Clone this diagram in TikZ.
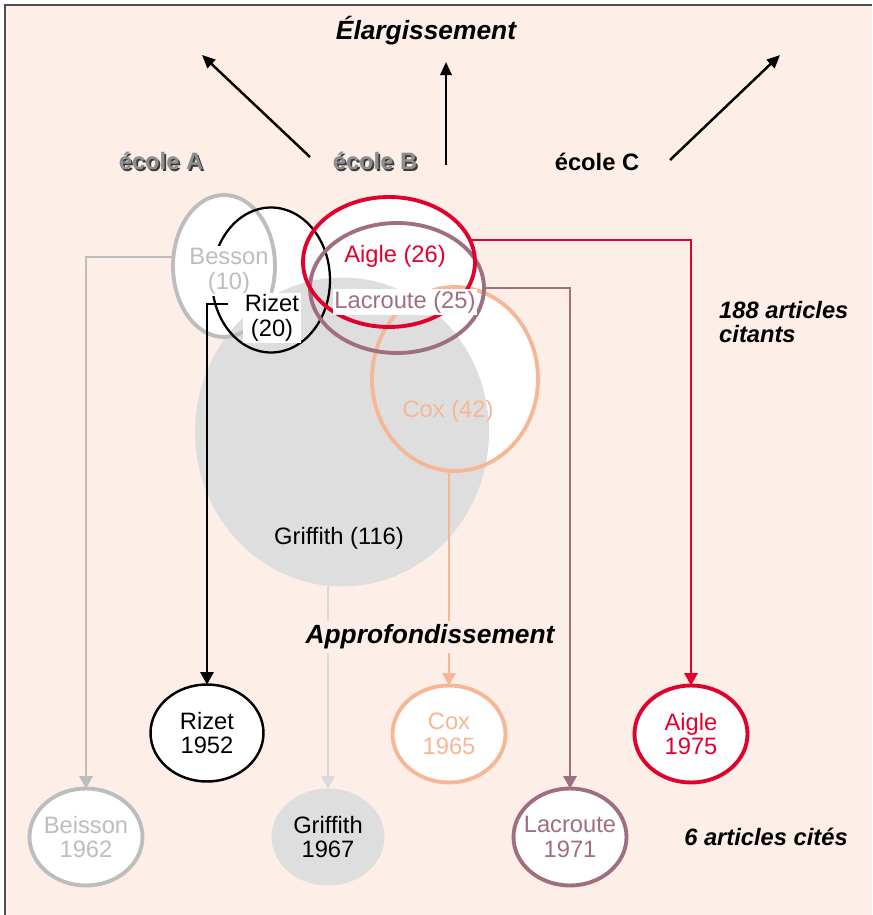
\documentclass[tikz,border=0pt]{standalone}
\usepackage{fontspec}
\setmainfont{Liberation Sans}
\usetikzlibrary{positioning,arrows.meta,calc,shapes.geometric,backgrounds}
\definecolor{fond}{HTML}{FDEEE7}
\definecolor{cadre}{HTML}{4F4F4F}
\definecolor{cAigle}{HTML}{E2002D}
\definecolor{cLacroute}{HTML}{9F6F80}
\definecolor{cCox}{HTML}{F6B797}
\definecolor{cBesson}{HTML}{BDBDBD}
\definecolor{cGriffith}{HTML}{DEDEDE}
\definecolor{cGrifLine}{HTML}{D9D9D9}
\definecolor{ecoleTxt}{HTML}{8E8E8E}
\definecolor{ecoleOmbre}{HTML}{3C3C3C}
\newcommand{\ombre}[1]{\makebox[0pt][l]{\hspace{1pt}\raisebox{-1pt}{\color{ecoleOmbre}#1}}{\color{ecoleTxt}#1}}

\begin{document}
\begin{tikzpicture}[x=0.02cm,y=-0.02cm,font=\fontsize{13.5}{14.2}\selectfont,
  ens/.style={ellipse,draw,line width=2.2pt,inner sep=0pt,outer sep=0pt},
  art/.style={ellipse,draw,fill=white,line width=2.2pt,inner xsep=-6pt,inner ysep=0pt,outer sep=0pt,
    minimum width=2.26cm,minimum height=1.94cm,align=center},
  lbl/.style={inner sep=1pt,align=center},
  titre/.style={font=\fontsize{15}{18}\selectfont\bfseries\itshape},
  note/.style={font=\fontsize{13.5}{13.6}\selectfont\bfseries\itshape,align=left},
  ecole/.style={font=\fontsize{13.5}{16}\selectfont\bfseries},
  lien/.style={-{Triangle[length=7pt,width=7.5pt]},line width=1.1pt},
  fleche/.style={-{Triangle[length=7.5pt,width=6.5pt]},line width=1.4pt}]
\useasboundingbox (0,0) rectangle (872,915);
% widening: three schools
\node[titre] (elarg) at (426,31) {Élargissement};
\node[ecole] (ecoleA) at (161,162) {\ombre{école A}};
\node[ecole] (ecoleB) at (375,162) {\ombre{école B}};
\node[ecole] (ecoleC) at (597,162) {école C};
\coordinate (dA) at (310,157); \coordinate (fA) at (202,55);
\coordinate (dB) at (446,165); \coordinate (fB) at (446,62);
\coordinate (dC) at (670,160); \coordinate (fC) at (780,55);
\draw[fleche] (dA) -- (fA);
\draw[fleche] (dB) -- (fB);
\draw[fleche] (dC) -- (fC);
% citing sets (Griffith under the outlines)
\node[ellipse,fill=cGriffith,inner sep=0pt,outer sep=0pt,minimum width=5.88cm,minimum height=6.18cm] (griffith) at (342,432) {};
\node[ens,draw=cBesson,minimum width=2.04cm,minimum height=2.84cm] (besson) at (224,266) {};
\node[ens,line width=1.3pt,minimum width=2.36cm,minimum height=2.9cm] (rizet) at (271,280) {};
\node[ens,draw=cCox,minimum width=3.32cm,minimum height=3.68cm] (cox) at (455,379) {};
\node[ens,draw=cLacroute,minimum width=3.48cm,minimum height=2.6cm] (lacroute) at (397,288) {};
\node[ens,draw=cAigle,minimum width=3.44cm,minimum height=2.6cm] (aigle) at (389,262) {};
\node[note,anchor=west] (citants) at (713,322) {188 articles\\citants};
% cited articles
\node[art,line width=1.4pt] (rizet52) at (207,733) {Rizet\\1952};
\node[art,draw=cCox,text=cCox] (cox65) at (449,734) {Cox\\1965};
\node[art,draw=cAigle,text=cAigle] (aigle75) at (691,734) {Aigle\\1975};
\node[art,draw=cBesson,text=cBesson] (beisson62) at (86,837) {Beisson\\1962};
\node[art,draw=none,fill=cGriffith] (griffith67) at (328,837) {Griffith\\1967};
\node[art,draw=cLacroute,text=cLacroute] (lacroute71) at (570,837) {Lacroute\\1971};
\node[note] (cites) at (766,837) {6 articles cités};
% links
\coordinate (rizetdep) at (228,304);
\draw[lien,cBesson] (besson.170) -| (beisson62.north);
\draw[lien] (rizetdep) -| (rizet52.north);
\draw[lien,cGrifLine] (griffith67.north |- griffith.south) -- (griffith67.north);
\draw[lien,cCox] (cox65.north |- cox.south) -- (cox65.north);
\draw[lien,cLacroute] (lacroute.east) -| (lacroute71.north);
\draw[lien,cAigle] (aigle.15) -| (aigle75.north);
\node[titre,fill=fond,inner sep=2pt] (approf) at (430,637) {Approfondissement};
% set labels
\node[lbl,fill=white,text=cBesson] (lbBesson) at (229,271) {Besson\\(10)};
\node[lbl,fill=white] (lbRizet) at (272,318) {Rizet\\(20)};
\node[lbl,text=cAigle] (lbAigle) at (395,256) {Aigle (26)};
\node[lbl,fill=white,text=cLacroute] (lbLacroute) at (405,302) {Lacroute (25)};
\node[lbl,text=cCox] (lbCox) at (448,411) {Cox (42)};
\node[lbl] (lbGriffith) at (339,538) {Griffith (116)};
\begin{scope}[on background layer]
  \fill[fond] (5,5) rectangle (872,915);
  \draw[cadre,line width=1.2pt] (5,915) -- (5,5) -- (872,5);
  \foreach \e in {besson,rizet,aigle,lacroute,cox}
    \fill[white] let \p1=($(\e.east)-(\e.center)$), \p2=($(\e.north)-(\e.center)$) in
      (\e.center) ellipse [x radius=\x1, y radius=\y2];
\end{scope}
\end{tikzpicture}
\end{document}
